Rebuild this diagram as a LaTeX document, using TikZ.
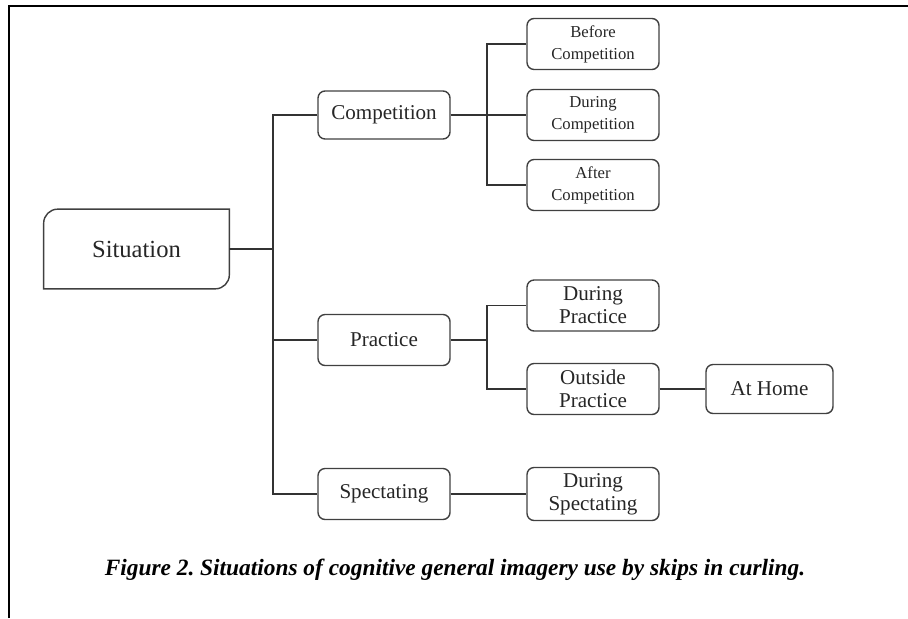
\documentclass[tikz,border=0pt]{standalone}
\usepackage{fontspec}
\setmainfont{Liberation Serif}
\usepackage{tikz}
\tikzstyle{box}=[draw=black!75,line width=0.8pt,rounded corners=4pt,align=center,text=black!85,minimum width=2.64cm,minimum height=1.02cm,inner sep=0,font=\fontsize{12}{13}\selectfont]
\tikzstyle{sbox}=[box,font=\fontsize{9.5}{12.5}\selectfont]
\tikzstyle{ln}=[draw=black!80,line width=0.8pt]

\begin{document}
\begin{tikzpicture}[x=0.02cm,y=-0.02cm]

                        \useasboundingbox (0,0) rectangle (908,618);
                        \draw[line width=0.9pt] (9,618) -- (9,6) -- (908,6);

                        \node[align=center,minimum width=3.7cm,minimum height=1.58cm,font=\fontsize{14}{16}\selectfont,text=black!85] (sit) at (136.5,249) {Situation};
                        \draw[draw=black!75,line width=0.8pt] (sit.north east) [rounded corners=0.28cm] -- (sit.north west) [sharp corners] -- (sit.south west) [rounded corners=0.28cm] -- (sit.south east) [sharp corners] -- cycle;

                        \node[box,minimum height=0.96cm] (comp) at (384,115) {Competition};
                        \node[box] (prac) at (384,340) {Practice};
                        \node[box] (spec) at (384,494) {Spectating};

                        \node[sbox] (before) at (593,44) {Before\\Competition};
                        \node[sbox] (dcomp) at (593,115) {During\\Competition};
                        \node[sbox] (after) at (593,185) {After\\Competition};

                        \node[box] (dprac) at (593,305.5) {During\\Practice};
                        \node[box] (oprac) at (593,389) {Outside\\Practice};
                        \node[box,minimum width=2.54cm,minimum height=0.98cm] (home) at (769.5,389) {At Home};

                        \node[box,minimum height=1.06cm] (dspec) at (593,494) {During\\Spectating};

                        \coordinate (t) at (273,249);
                        \coordinate (cb) at (487,115);
                        \coordinate (pb) at (487,340);

                        \draw[ln]
                        (sit) -- (t)
                        (comp.west) -| (t) |- (spec.west)
                        (prac.west) -- (prac.west -| t)
                        (comp) -- (dcomp)
                        (before.west) -| (cb) |- (after.west)
                        (prac) -- (pb)
                        (dprac.west) -| (pb) |- (oprac.west)
                        (oprac) -- (home)
                        (spec) -- (dspec)
                        ;

                        \node[font=\fontsize{13.3}{15}\selectfont\bfseries\itshape] (cap) at (455,570) {Figure 2.\ Situations of cognitive general imagery use by skips in curling.};

    \end{tikzpicture}
\end{document}
